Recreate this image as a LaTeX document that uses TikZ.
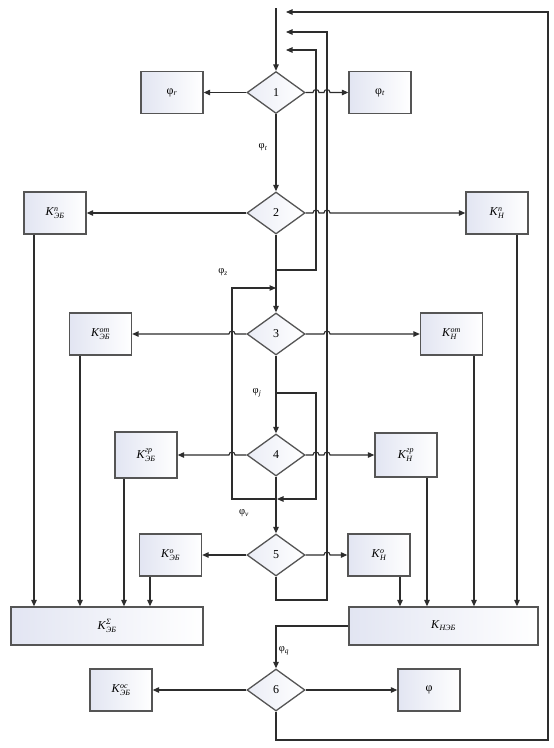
\documentclass[tikz,border=0pt]{standalone}
\usepackage{fontspec}
\setmainfont{Liberation Serif}
\usepackage{amsmath}
\usetikzlibrary{shapes.geometric,arrows.meta}
\newcommand{\Klab}[2]{\textit{K}$^{\text{\itshape #1}}_{\text{\itshape #2}}$}
\newcommand{\philab}[1]{φ$_{\text{\itshape #1}}$}
\definecolor{boxl}{RGB}{226,229,242}
\definecolor{ln}{RGB}{45,45,45}
\definecolor{bd}{RGB}{85,85,85}
\begin{document}
\begin{tikzpicture}[x=1pt,y=-1pt,
  line/.style={draw=ln, line width=1.1pt},
  arr/.style={line, -{Triangle[length=6.5pt,width=5.5pt]}},
  box/.style={draw=bd, line width=1.3pt, left color=boxl, right color=white,
    minimum width=62pt, minimum height=42pt, inner sep=0pt, font=\fontsize{12}{13}\selectfont},
  dia/.style={diamond, draw=bd, line width=1.3pt, left color=boxl!70, right color=white,
    minimum width=58pt, minimum height=42pt, inner sep=0pt, aspect=1.38, font=\fontsize{12}{13}\selectfont},
  lab/.style={font=\fontsize{10.5}{11}\selectfont, inner sep=0pt}]
\useasboundingbox (0,0) rectangle (554,748);

% diamonds
\node[dia] (d1) at (276,92.5) {1};
\node[dia] (d2) at (276,213) {2};
\node[dia] (d3) at (276,334) {3};
\node[dia] (d4) at (276,455) {4};
\node[dia] (d5) at (276,555) {5};
\node[dia] (d6) at (276,690) {6};

% boxes
\node[box] (br) at (172,92.5) {φ$_{\text{\itshape r}}$};
\node[box] (bt) at (380,92.5) {φ$_{\text{\itshape t}}$};
\node[box] (k2l) at (55,213) {\Klab{п}{ЭБ}};
\node[box] (k2r) at (497,213) {\Klab{п}{Н}};
\node[box] (k3l) at (100.5,334) {\Klab{от}{ЭБ}};
\node[box] (k3r) at (451.5,334) {\Klab{от}{Н}};
\node[box, minimum height=46pt] (k4l) at (146,455) {\Klab{гр}{ЭБ}};
\node[box, minimum height=44pt] (k4r) at (406,455) {\Klab{гр}{Н}};
\node[box] (k5l) at (170.5,555) {\Klab{о}{ЭБ}};
\node[box] (k5r) at (379,555) {\Klab{о}{Н}};
\node[box, minimum width=192pt, minimum height=38pt] (kS) at (107,626) {\Klab{Σ}{ЭБ}};
\node[box, minimum width=189pt, minimum height=38pt] (kN) at (443.5,626) {\textit{K}$_{\text{\itshape НЭБ}}$};
\node[box] (k6l) at (121,690) {\Klab{ос}{ЭБ}};
\node[box] (k6r) at (429,690) {φ};

% labels
\node[lab] (l1) at (263,147) {\philab{t}};
\node[lab] (l2) at (223,272) {\philab{z}};
\node[lab] (l3) at (257,393) {\philab{j}};
\node[lab] (l4) at (244,513) {\philab{v}};
\node[lab] (l5) at (284,651) {\philab{q}};

% main vertical flow
\coordinate (top) at (276,8);
\draw[arr] (top) -- (d1.north);
\draw[arr] (d1.south) -- (d2.north);
\draw[arr] (d2.south) -- (d3.north);
\draw[arr] (d3.south) -- (d4.north);
\draw[arr] (d4.south) -- (d5.north);

% return loops
\coordinate (ra) at (286,12);
\coordinate (rb) at (286,32);
\coordinate (rc) at (286,50);
\draw[arr] (d6.south) -- (276,740) -- (548,740) -- (548,12) -- (ra);
\draw[arr] (d5.south) -- (276,600) -- (327,600) -- (327,32) -- (rb);
\draw[arr] (276,270) -- (316,270) -- (316,50) -- (rc);
\draw[arr] (276,393) -- (316,393) -- (316,499) -- (277,499);
\draw[arr] (277,499) -- (232,499) -- (232,288) -- (276,288);

% horizontal outputs
\draw[arr] (d1.west) -- (br.east);
\draw[arr] (d1.east) -- (313,92.5) arc[start angle=180,end angle=0,radius=3pt]
  -- (324,92.5) arc[start angle=180,end angle=0,radius=3pt] -- (bt.west);
\draw[arr] (d2.west) -- (k2l.east);
\draw[arr] (d2.east) -- (313,213) arc[start angle=180,end angle=0,radius=3pt]
  -- (324,213) arc[start angle=180,end angle=0,radius=3pt] -- (k2r.west);
\draw[arr] (d3.west) -- (235,334) arc[start angle=0,end angle=180,radius=3pt] -- (k3l.east);
\draw[arr] (d3.east) -- (324,334) arc[start angle=180,end angle=0,radius=3pt] -- (k3r.west);
\draw[arr] (d4.west) -- (235,455) arc[start angle=0,end angle=180,radius=3pt] -- (k4l.east);
\draw[arr] (d4.east) -- (313,455) arc[start angle=180,end angle=0,radius=3pt]
  -- (324,455) arc[start angle=180,end angle=0,radius=3pt] -- (k4r.west);
\draw[arr] (d5.west) -- (k5l.east);
\draw[arr] (d5.east) -- (324,555) arc[start angle=180,end angle=0,radius=3pt] -- (k5r.west);
\draw[arr] (d6.west) -- (k6l.east);
\draw[arr] (d6.east) -- (k6r.west);

% into bottom boxes
\draw[arr] (k2l.south -| 34,0) -- (kS.north -| 34,0);
\draw[arr] (k3l.south -| 80,0) -- (kS.north -| 80,0);
\draw[arr] (k4l.south -| 124,0) -- (kS.north -| 124,0);
\draw[arr] (k5l.south -| 150,0) -- (kS.north -| 150,0);
\draw[arr] (k5r.south -| 400,0) -- (kN.north -| 400,0);
\draw[arr] (k4r.south -| 427,0) -- (kN.north -| 427,0);
\draw[arr] (k3r.south -| 474,0) -- (kN.north -| 474,0);
\draw[arr] (k2r.south -| 517,0) -- (kN.north -| 517,0);

% from K_NEB to diamond 6
\draw[arr] (kN.west) -- (kN.west -| d6.north) -- (d6.north);
\end{tikzpicture}
\end{document}
